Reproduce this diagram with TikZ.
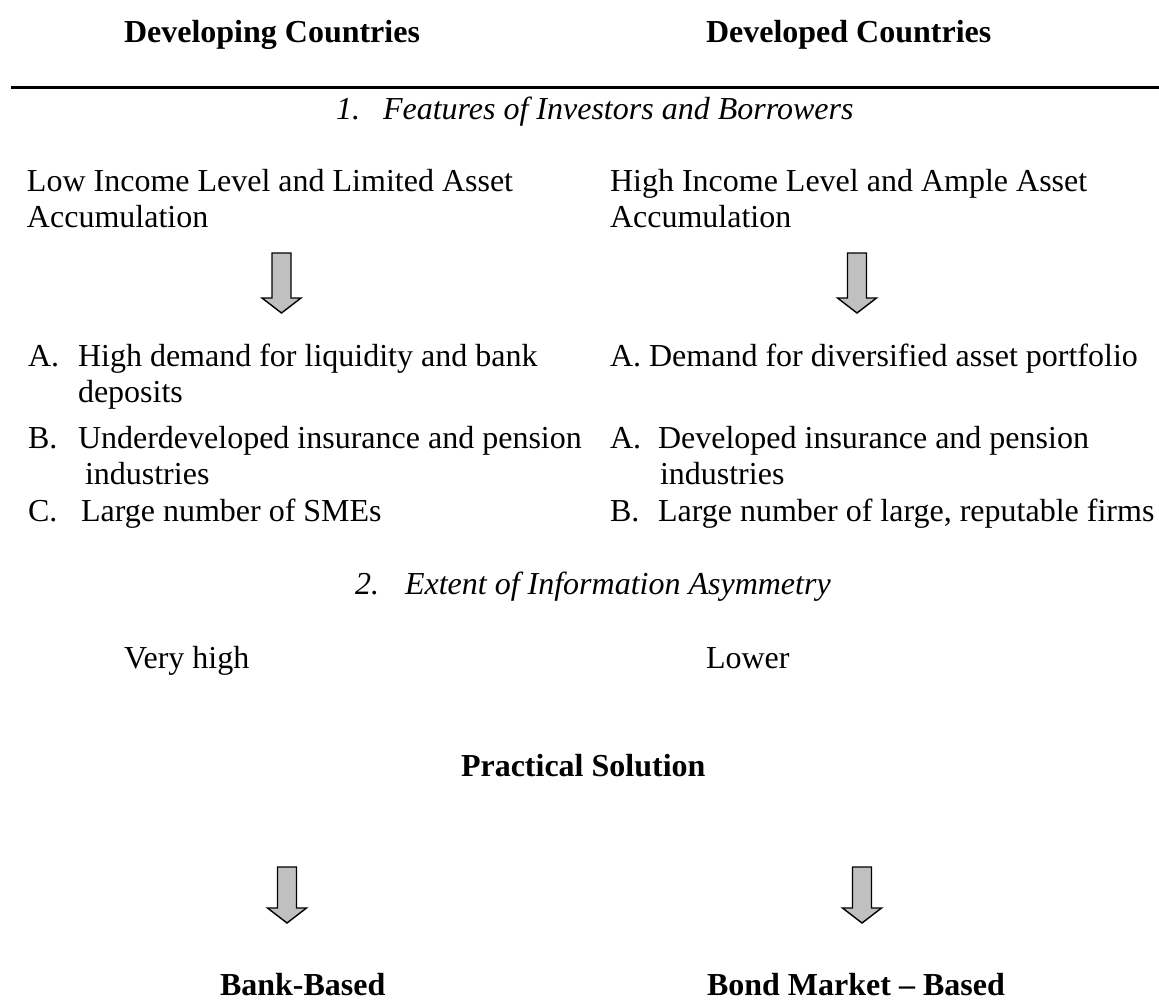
\documentclass[tikz,border=0pt]{standalone}
\usepackage{fontspec}
\setmainfont{Liberation Serif}
\definecolor{arrowgray}{HTML}{C0C0C0}
\begin{document}
\begin{tikzpicture}[x=1pt,y=-1pt,
  txt/.style={anchor=base west, inner sep=0pt, outer sep=0pt, font=\fontsize{32}{36.8}\selectfont},
  bold/.style={txt, font=\fontsize{32}{36.8}\selectfont\bfseries},
  ital/.style={txt, font=\fontsize{32}{36.8}\selectfont\itshape},
  blockarrow/.style={draw=black, fill=arrowgray, line width=1.4pt, line join=miter}]
\useasboundingbox (0,0) rectangle (1159,1002);

% column headings
\node[bold] (hleft)  at (124,42) {Developing Countries};
\node[bold] (hright) at (706,42) {Developed Countries};
\draw[line width=3pt] (11,87) -- (1159,87);

% section 1
\node[ital] (s1num) at (336,119) {1.};
\node[ital] (s1)    at (383,119) {Features of Investors and Borrowers};

\node[txt] (l1a) at (27,191) {Low Income Level and Limited Asset};
\node[txt] (l1b) at (27,227.5) {Accumulation};
\node[txt] (r1a) at (610,191) {High Income Level and Ample Asset};
\node[txt] (r1b) at (610,227.5) {Accumulation};

\draw[blockarrow, shift={(281.5,253)}] (-9.5,0) -- (9.5,0) -- (9.5,45) -- (19.5,45) -- (0,60) -- (-19.5,45) -- (-9.5,45) -- cycle;
\draw[blockarrow, shift={(857,253)}] (-9.5,0) -- (9.5,0) -- (9.5,45) -- (19.5,45) -- (0,60) -- (-19.5,45) -- (-9.5,45) -- cycle;

% left list
\node[txt] (la)   at (28,366) {A.};
\node[txt] (lat1) at (78,366) {High demand for liquidity and bank};
\node[txt] (lat2) at (78,402.5) {deposits};
\node[txt] (lb)   at (28,448) {B.};
\node[txt] (lbt1) at (78,448) {Underdeveloped insurance and pension};
\node[txt] (lbt2) at (85,484.5) {industries};
\node[txt] (lc)   at (28,521) {C.};
\node[txt] (lct)  at (81,521) {Large number of SMEs};

% right list
\node[txt] (ra)   at (610,366) {A. Demand for diversified asset portfolio};
\node[txt] (rb)   at (610,448) {A.};
\node[txt] (rbt1) at (658,448) {Developed insurance and pension};
\node[txt] (rbt2) at (660,484.5) {industries};
\node[txt] (rc)   at (610,521) {B.};
\node[txt] (rct)  at (658,521) {Large number of large, reputable firms};

% section 2
\node[ital] (s2num) at (355,594) {2.};
\node[ital] (s2)    at (405,594) {Extent of Information Asymmetry};
\node[txt] (vh) at (124,668) {Very high};
\node[txt] (lo) at (706,668) {Lower};

\node[bold] (ps) at (461,776) {Practical Solution};

\draw[blockarrow, shift={(287,867)}] (-9.5,0) -- (9.5,0) -- (9.5,41) -- (19.5,41) -- (0,56) -- (-19.5,41) -- (-9.5,41) -- cycle;
\draw[blockarrow, shift={(862,867)}] (-9.5,0) -- (9.5,0) -- (9.5,41) -- (19.5,41) -- (0,56) -- (-19.5,41) -- (-9.5,41) -- cycle;

\node[bold, text depth=0pt] (bb) at (220,995) {Bank-Based};
\node[bold, text depth=0pt] (bm) at (707,995) {Bond Market – Based};
\end{tikzpicture}
\end{document}
